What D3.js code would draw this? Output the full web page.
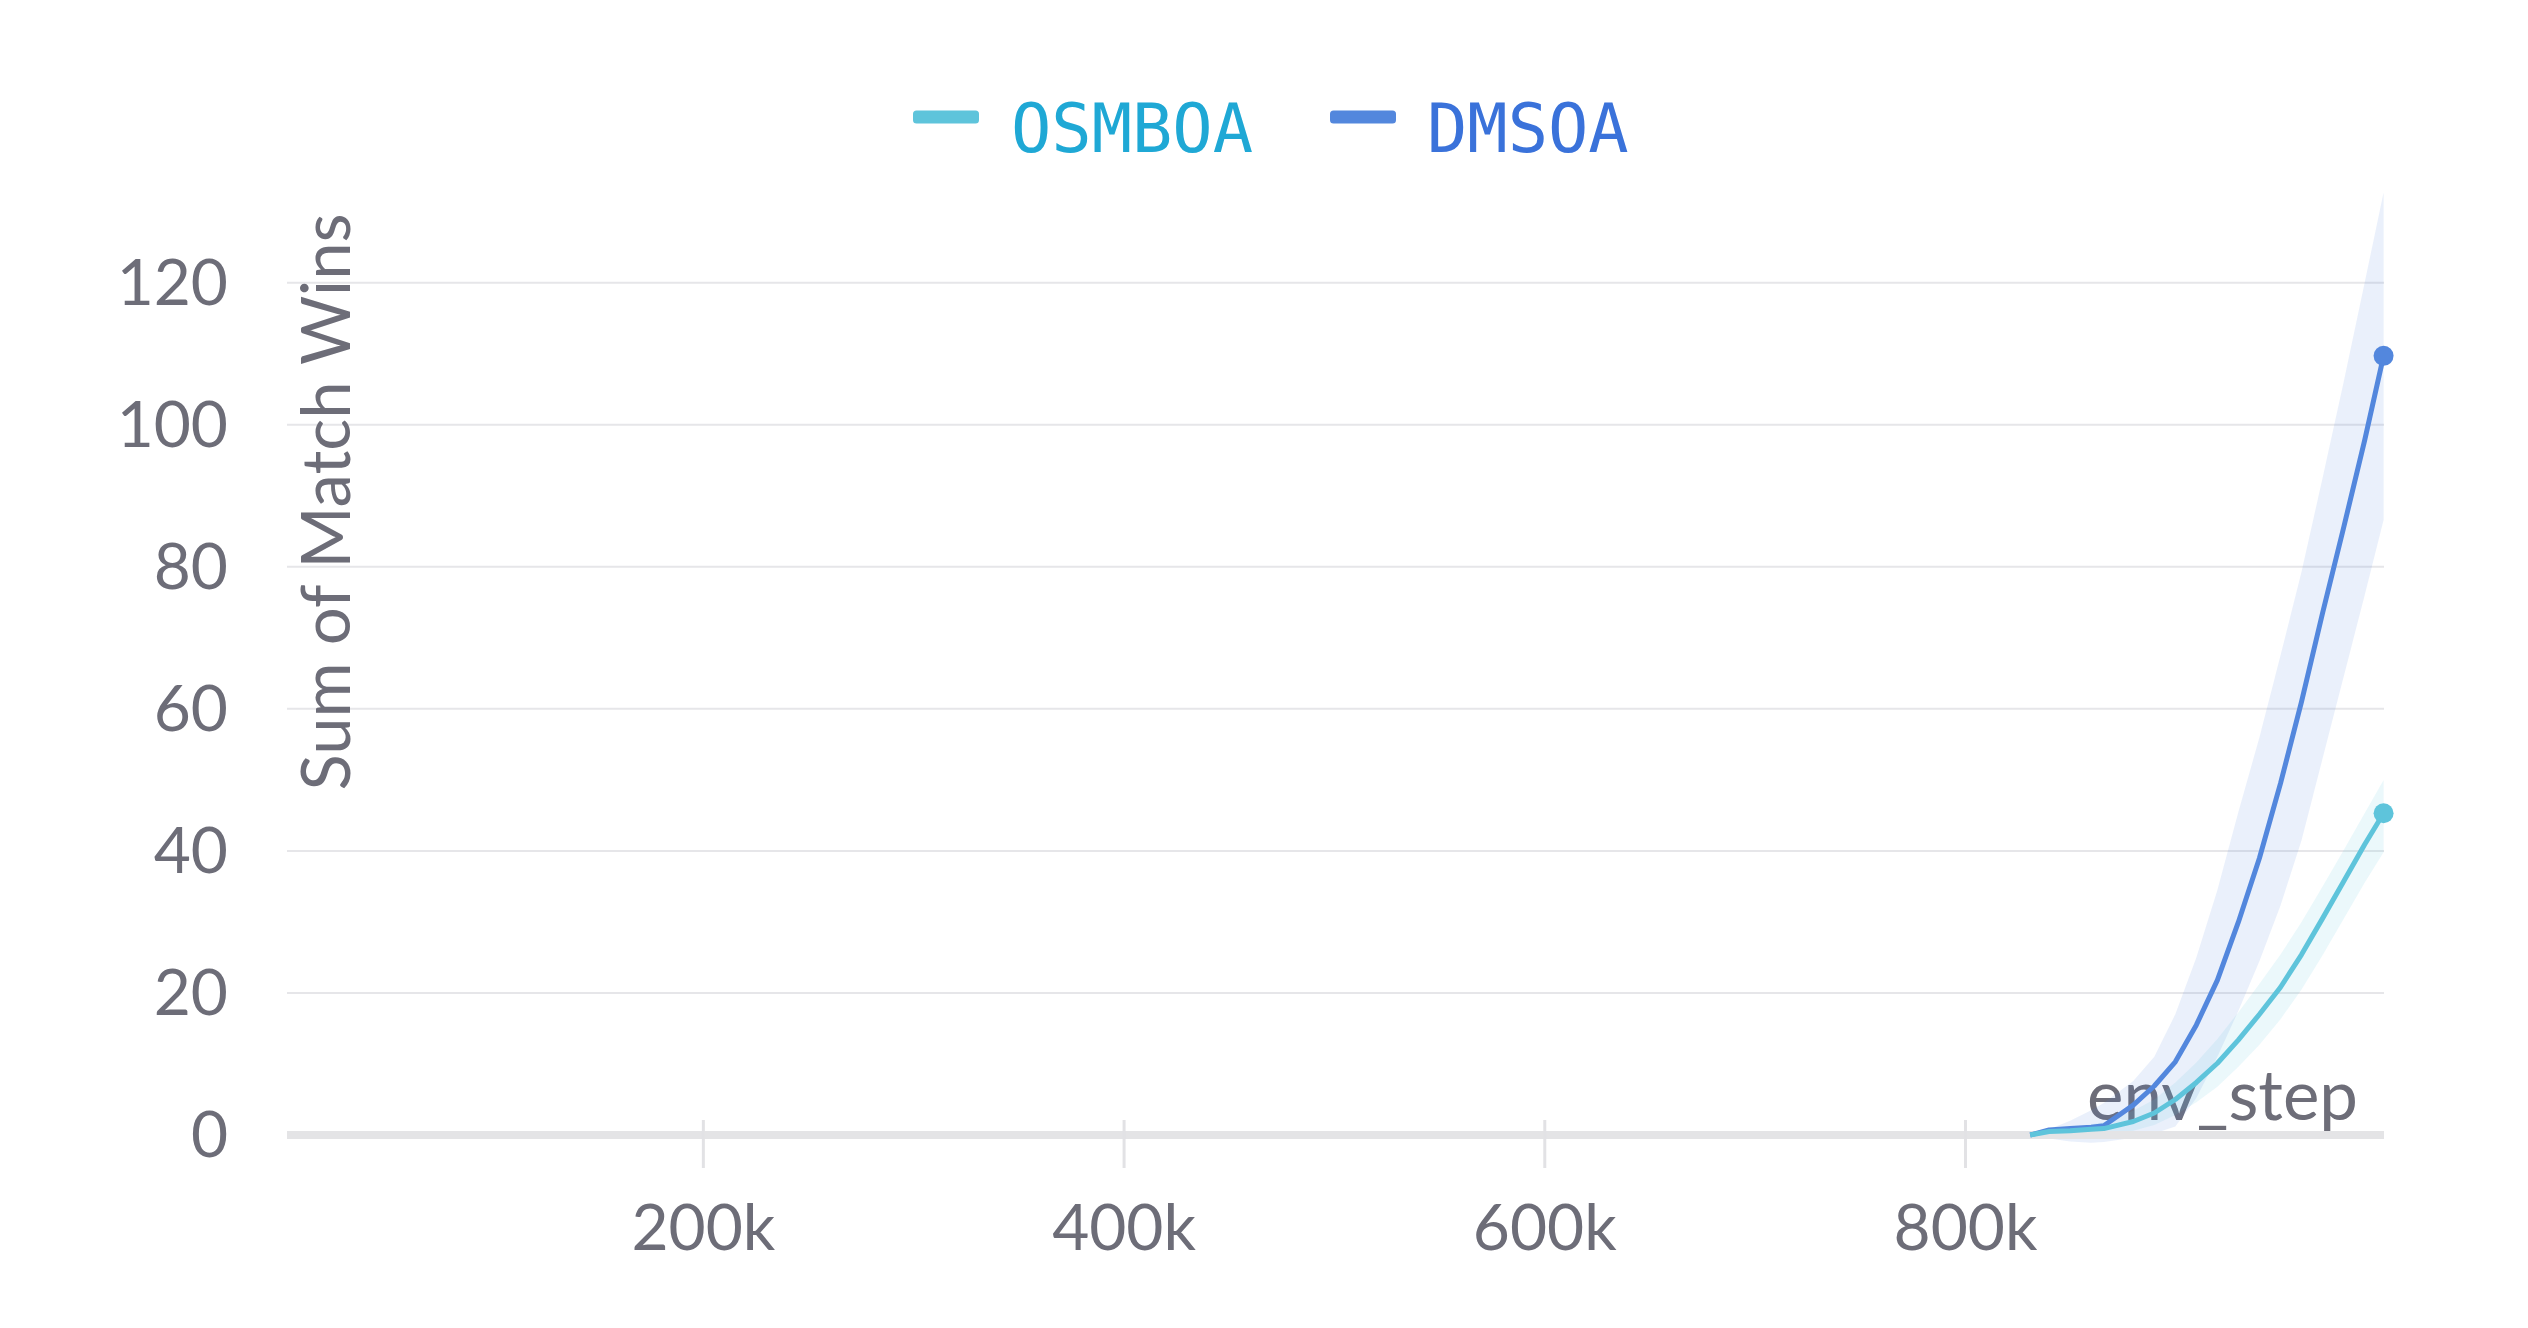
<!DOCTYPE html>
<html>
<head>
<meta charset="utf-8">
<script src="https://cdn.jsdelivr.net/npm/d3@7"></script>
<style>
  html, body { margin: 0; padding: 0; background: #ffffff; }
  svg { display: block; }
</style>
</head>
<body>
<svg id="chart" width="2528" height="1328"></svg>
<script>
// ---------- data ----------
const seriesNames = ["OSMBOA", "DMSOA"];
const steps = [831000, 840000, 850000, 860000, 866000, 880000, 890000, 900000, 910000, 920000,
               930000, 940000, 950000, 960000, 970000, 980000, 990000, 999000];
const dmsoa    = [0, 0.7, 0.9, 1.1, 1.3, 4.2, 6.9, 10.3, 15.5, 21.8, 30.0, 39.0, 49.5, 61.0, 73.5, 85.5, 97.8, 109.7];
const dmsoaHi  = [0, 0.8, 2.0, 3.5, 4.5, 7.6, 11.0, 17.0, 25.0, 34.5, 45.5, 56.0, 67.5, 79.3, 92.5, 106.0, 120.0, 132.7];
const dmsoaLo  = [0, -0.5, -0.9, -1.1, -1.0, -0.4, 0.2, 1.2, 5.2, 11.0, 17.5, 24.5, 32.3, 41.5, 53.0, 64.5, 76.0, 86.6];
const osmboa   = [0, 0.5, 0.6, 0.8, 0.9, 1.9, 3.1, 5.0, 7.4, 10.1, 13.4, 17.0, 20.8, 25.4, 30.5, 35.7, 40.9, 45.3];
const osmboaHi = [0, 0.7, 1.0, 1.5, 1.8, 3.4, 5.0, 7.4, 10.2, 13.5, 17.3, 21.3, 25.4, 30.0, 35.0, 40.1, 45.3, 50.0];
const osmboaLo = [0, 0.3, 0.3, 0.3, 0.3, 0.6, 1.4, 2.8, 4.6, 6.8, 9.6, 12.7, 16.3, 20.5, 25.3, 30.4, 35.5, 39.8];
const xTicks = [200000, 400000, 600000, 800000];
const xTickLabels = ["200k", "400k", "600k", "800k"];
const yTicks = [0, 20, 40, 60, 80, 100, 120];
const xDomain = [2300, 999200];
const yDomain = [0, 120];
const yTitle = "Sum of Match Wins";
const xTitle = "env_step";

// ---------- styles ----------
const lineColors = { OSMBOA: "#5ec4db", DMSOA: "#5387dd" };
const textColors = { OSMBOA: "#1fa8d5", DMSOA: "#3a72da" };
const axisText = "#6d6d78";
const font = "Lato, 'Source Sans Pro', sans-serif";

const svg = d3.select("#chart");
const left = 287, right = 2384, bottom = 1135, top120 = 282.7;

const x = d3.scaleLinear().domain(xDomain).range([left, right]);
const y = d3.scaleLinear().domain(yDomain).range([bottom, top120]);

// gridlines
svg.append("g").selectAll("line")
  .data(yTicks.filter(v => v !== 0))
  .join("line")
  .attr("x1", left).attr("x2", right)
  .attr("y1", d => y(d)).attr("y2", d => y(d))
  .attr("stroke", "#e6e6e9").attr("stroke-width", 2);

// y tick labels
svg.append("g").selectAll("text")
  .data(yTicks)
  .join("text")
  .attr("x", 228).attr("y", d => y(d))
  .attr("dy", "0.35em")
  .attr("text-anchor", "end")
  .attr("font-family", font).attr("font-size", 64)
  .attr("fill", axisText)
  .text(d => d);

// y axis title
svg.append("text")
  .attr("transform", `translate(350, 502) rotate(-90)`)
  .attr("text-anchor", "middle")
  .attr("font-family", font).attr("font-size", 67)
  .attr("fill", axisText)
  .text(yTitle);

// x axis title (behind lines)
svg.append("text")
  .attr("x", 2358).attr("y", 1120)
  .attr("text-anchor", "end")
  .attr("font-family", font).attr("font-size", 69)
  .attr("fill", axisText)
  .text(xTitle);

// bands
const mk = (vals) => steps.map((s, i) => ({ s, v: vals[i] }));
const bandData = [
  { name: "DMSOA", lo: dmsoaLo, hi: dmsoaHi },
  { name: "OSMBOA", lo: osmboaLo, hi: osmboaHi }
];
const area = d3.area()
  .x(d => x(d.s)).y0(d => y(d.lo)).y1(d => y(d.hi));
bandData.forEach(b => {
  svg.append("path")
    .datum(steps.map((s, i) => ({ s, lo: b.lo[i], hi: b.hi[i] })))
    .attr("d", area)
    .attr("fill", lineColors[b.name])
    .attr("fill-opacity", 0.12);
});

// x axis baseline
svg.append("line")
  .attr("x1", left).attr("x2", right)
  .attr("y1", y(0)).attr("y2", y(0))
  .attr("stroke", "#e4e4e6").attr("stroke-width", 8);

// x axis ticks + labels
const xAxis = d3.axisBottom(x)
  .tickValues(xTicks)
  .tickFormat((d, i) => xTickLabels[i])
  .tickSize(33)
  .tickPadding(37);
const gx = svg.append("g").attr("transform", `translate(0, 1135)`).call(xAxis);
gx.select(".domain").remove();
gx.selectAll(".tick line").attr("stroke", "#e2e2e5").attr("stroke-width", 3).attr("y1", -15);
gx.selectAll(".tick text")
  .attr("font-family", font).attr("font-size", 64)
  .attr("fill", axisText);

// lines
const line = d3.line().x(d => x(d.s)).y(d => y(d.v));
const lineData = [
  { name: "DMSOA", vals: dmsoa },
  { name: "OSMBOA", vals: osmboa }
];
lineData.forEach(l => {
  const pts = mk(l.vals);
  svg.append("path")
    .datum(pts)
    .attr("d", line)
    .attr("fill", "none")
    .attr("stroke", lineColors[l.name])
    .attr("stroke-width", 5)
    .attr("stroke-linejoin", "round");
  const last = pts[pts.length - 1];
  svg.append("circle")
    .attr("cx", x(last.s)).attr("cy", y(last.v)).attr("r", 10)
    .attr("fill", lineColors[l.name]);
});

// legend
const legendItems = [
  { name: "OSMBOA", sx: 913, tx: 1011 },
  { name: "DMSOA", sx: 1330, tx: 1427 }
];
const lg = svg.append("g");
legendItems.forEach(it => {
  lg.append("rect")
    .attr("x", it.sx).attr("y", 110.5).attr("width", 66).attr("height", 13)
    .attr("rx", 3.5)
    .attr("fill", lineColors[it.name]);
  lg.append("text")
    .attr("x", it.tx).attr("y", 152)
    .attr("font-family", "'DejaVu Sans Mono', monospace").attr("font-size", 67)
    .attr("fill", textColors[it.name])
    .text(it.name);
});
</script>
</body>
</html>
